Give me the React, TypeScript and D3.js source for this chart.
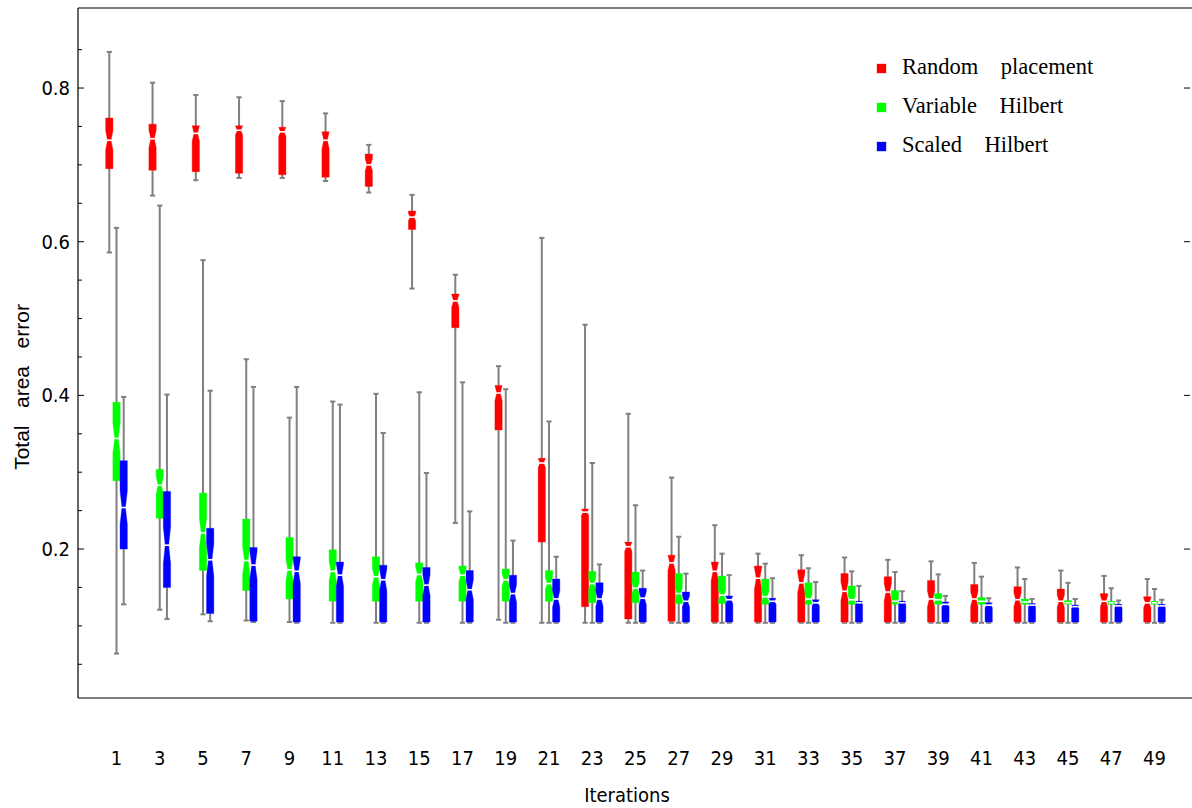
import React, { useLayoutEffect } from "react";
import * as d3 from "d3";

const iterations = [1, 3, 5, 7, 9, 11, 13, 15, 17, 19, 21, 23, 25, 27, 29, 31, 33, 35, 37, 39, 41, 43, 45, 47, 49];

const seriesNames = ["Random    placement", "Variable    Hilbert", "Scaled    Hilbert"];
const seriesColors = ["#ff0000", "#00ff00", "#0000ff"];

// Random placement
const randomHi = [0.847, 0.807, 0.791, 0.788, 0.783, 0.767, 0.726, 0.661, 0.557, 0.438, 0.605, 0.492, 0.376, 0.293, 0.231, 0.194, 0.192, 0.189, 0.186, 0.184, 0.182, 0.176, 0.172, 0.165, 0.161];
const randomQ3 = [0.761, 0.753, 0.751, 0.751, 0.749, 0.743, 0.714, 0.640, 0.532, 0.413, 0.318, 0.252, 0.209, 0.192, 0.183, 0.178, 0.173, 0.168, 0.164, 0.159, 0.154, 0.151, 0.148, 0.142, 0.138];
const randomMed = [0.732, 0.734, 0.741, 0.745, 0.743, 0.732, 0.700, 0.632, 0.523, 0.403, 0.312, 0.248, 0.203, 0.182, 0.171, 0.162, 0.156, 0.145, 0.144, 0.135, 0.135, 0.134, 0.132, 0.132, 0.130];
const randomQ1 = [0.695, 0.693, 0.691, 0.689, 0.687, 0.684, 0.672, 0.616, 0.488, 0.355, 0.209, 0.125, 0.109, 0.106, 0.105, 0.105, 0.105, 0.105, 0.105, 0.105, 0.105, 0.105, 0.105, 0.105, 0.105];
const randomLo = [0.586, 0.660, 0.680, 0.683, 0.683, 0.679, 0.664, 0.539, 0.234, 0.108, 0.104, 0.104, 0.104, 0.104, 0.104, 0.104, 0.104, 0.104, 0.104, 0.104, 0.104, 0.104, 0.104, 0.104, 0.104];

// Variable Hilbert
const variableHi = [0.618, 0.647, 0.576, 0.447, 0.371, 0.392, 0.402, 0.404, 0.417, 0.408, 0.366, 0.312, 0.257, 0.216, 0.194, 0.181, 0.175, 0.171, 0.170, 0.167, 0.164, 0.161, 0.156, 0.149, 0.148];
const variableQ3 = [0.391, 0.304, 0.273, 0.239, 0.215, 0.199, 0.190, 0.182, 0.178, 0.174, 0.172, 0.171, 0.170, 0.168, 0.165, 0.161, 0.156, 0.152, 0.146, 0.142, 0.137, 0.135, 0.133, 0.132, 0.132];
const variableMed = [0.344, 0.283, 0.221, 0.185, 0.173, 0.171, 0.164, 0.167, 0.166, 0.160, 0.155, 0.155, 0.149, 0.142, 0.140, 0.138, 0.135, 0.134, 0.132, 0.134, 0.132, 0.131, 0.130, 0.130, 0.130];
const variableQ1 = [0.289, 0.240, 0.172, 0.146, 0.135, 0.132, 0.132, 0.132, 0.132, 0.132, 0.132, 0.130, 0.130, 0.129, 0.129, 0.128, 0.128, 0.128, 0.128, 0.128, 0.128, 0.128, 0.128, 0.128, 0.128];
const variableLo = [0.064, 0.121, 0.115, 0.107, 0.105, 0.104, 0.104, 0.104, 0.104, 0.104, 0.104, 0.104, 0.104, 0.104, 0.104, 0.104, 0.104, 0.104, 0.104, 0.104, 0.104, 0.104, 0.104, 0.104, 0.104];

// Scaled Hilbert
const scaledHi = [0.398, 0.401, 0.406, 0.411, 0.411, 0.388, 0.351, 0.299, 0.249, 0.211, 0.190, 0.180, 0.172, 0.168, 0.166, 0.162, 0.157, 0.152, 0.145, 0.139, 0.136, 0.135, 0.135, 0.133, 0.134];
const scaledQ3 = [0.315, 0.275, 0.227, 0.202, 0.190, 0.183, 0.179, 0.176, 0.172, 0.166, 0.161, 0.156, 0.149, 0.144, 0.139, 0.136, 0.134, 0.132, 0.132, 0.131, 0.130, 0.129, 0.127, 0.128, 0.128];
const scaledMed = [0.254, 0.205, 0.186, 0.179, 0.171, 0.166, 0.160, 0.153, 0.147, 0.142, 0.135, 0.135, 0.136, 0.132, 0.134, 0.132, 0.130, 0.130, 0.130, 0.128, 0.127, 0.127, 0.125, 0.126, 0.126];
const scaledQ1 = [0.200, 0.150, 0.116, 0.106, 0.105, 0.105, 0.105, 0.105, 0.105, 0.105, 0.105, 0.105, 0.105, 0.105, 0.105, 0.105, 0.105, 0.105, 0.105, 0.105, 0.105, 0.105, 0.105, 0.105, 0.105];
const scaledLo = [0.128, 0.109, 0.106, 0.105, 0.104, 0.104, 0.104, 0.104, 0.104, 0.104, 0.104, 0.104, 0.104, 0.104, 0.104, 0.104, 0.104, 0.104, 0.104, 0.104, 0.104, 0.104, 0.104, 0.104, 0.104];

const majorTicks = [0.2, 0.4, 0.6, 0.8];
const minorTicks = [0.05, 0.1, 0.15, 0.25, 0.3, 0.35, 0.45, 0.5, 0.55, 0.65, 0.7, 0.75, 0.85];

const series = [
  { lo: randomLo, q1: randomQ1, med: randomMed, q3: randomQ3, hi: randomHi },
  { lo: variableLo, q1: variableQ1, med: variableMed, q3: variableQ3, hi: variableHi },
  { lo: scaledLo, q1: scaledQ1, med: scaledMed, q3: scaledQ3, hi: scaledHi },
];

const W = 1192;
const H = 808;
const frame = { left: 78, top: 8, right: 1192, bottom: 698 };

export default function App() {
  useLayoutEffect(() => {
    document.body.style.margin = "0";
  }, []);

  const x = d3.scalePoint<number>().domain(iterations).range([116.5, 1154.5]);
  const y = d3.scaleLinear().domain([0, 0.9]).range([702.7, 11.2]);

  const boxW = 7.3;
  const offset = 7.2;
  const gray = "#808080";
  const tickFont = "'DejaVu Sans Condensed', 'DejaVu Sans', sans-serif";

  const whiskers: React.ReactNode[] = [];
  const boxes: React.ReactNode[] = [];

  series.forEach((s, si) => {
    const color = seriesColors[si];
    iterations.forEach((it, i) => {
      const cx = (x(it) as number) + (si - 1) * offset;
      const yLo = y(s.lo[i]);
      const yHi = y(s.hi[i]);
      whiskers.push(
        <g key={`w${si}-${i}`}>
          <line x1={cx} x2={cx} y1={yLo} y2={yHi} stroke={gray} strokeWidth={2} />
          <line x1={cx - 2.6} x2={cx + 2.6} y1={yLo} y2={yLo} stroke={gray} strokeWidth={2} />
          <line x1={cx - 2.6} x2={cx + 2.6} y1={yHi} y2={yHi} stroke={gray} strokeWidth={2} />
        </g>
      );
      const q1 = s.q1[i], q3 = s.q3[i], med = s.med[i];
      const iqr = q3 - q1;
      const nh = Math.max(0, Math.min(0.19 * iqr, med - q1, q3 - med));
      const x0 = cx - boxW / 2, x1 = cx + boxW / 2;
      const nx0 = cx - boxW * 0.24, nx1 = cx + boxW * 0.24;
      const pts: [number, number][] = [
        [x0, y(q1)],
        [x0, y(med - nh)],
        [nx0, y(med)],
        [x0, y(med + nh)],
        [x0, y(q3)],
        [x1, y(q3)],
        [x1, y(med + nh)],
        [nx1, y(med)],
        [x1, y(med - nh)],
        [x1, y(q1)],
      ];
      const path = d3.line()(pts) + "Z";
      boxes.push(
        <g key={`b${si}-${i}`}>
          <path d={path} fill={color} stroke={color} strokeOpacity={0.35} strokeWidth={1} />
          <line x1={nx0 - 0.6} x2={nx1 + 0.6} y1={y(med)} y2={y(med)} stroke="#ffffff" strokeWidth={1.6} />
        </g>
      );
    });
  });

  return (
    <svg width={W} height={H} style={{ display: "block" }} xmlns="http://www.w3.org/2000/svg">
      <rect x={0} y={0} width={W} height={H} fill="#ffffff" />
      {/* frame */}
      <line x1={frame.left} x2={frame.right} y1={frame.top} y2={frame.top} stroke="#000" strokeWidth={1.2} />
      <line x1={frame.left} x2={frame.right} y1={frame.bottom} y2={frame.bottom} stroke="#000" strokeWidth={1.2} />
      <line x1={frame.left} x2={frame.left} y1={frame.top} y2={frame.bottom} stroke="#000" strokeWidth={1.2} />
      {majorTicks.map((t) => (
        <g key={`mt${t}`}>
          <line x1={frame.left} x2={frame.left + 6} y1={y(t)} y2={y(t)} stroke="#000" strokeWidth={1} />
          <line x1={frame.right - 8} x2={frame.right - 2} y1={y(t)} y2={y(t)} stroke="#000" strokeWidth={1} />
          <text x={frame.left - 8} y={y(t) + 7} textAnchor="end" fontFamily={tickFont} fontSize={20} fill="#000">
            {d3.format(".1f")(t)}
          </text>
        </g>
      ))}
      {minorTicks.map((t) => (
        <line key={`mn${t}`} x1={frame.left} x2={frame.left + 4} y1={y(t)} y2={y(t)} stroke="#000" strokeWidth={1} />
      ))}
      {iterations.map((it) => (
        <text key={`xl${it}`} x={x(it) as number} y={765} textAnchor="middle" fontFamily={tickFont} fontSize={20} fill="#000">
          {it}
        </text>
      ))}
      <text x={627} y={802} textAnchor="middle" fontFamily={tickFont} fontSize={20} fill="#000">
        Iterations
      </text>
      <text
        transform={`translate(29,387) rotate(-90)`}
        textAnchor="middle"
        fontFamily="'Liberation Sans Narrow', 'Arial Narrow', sans-serif"
        fontSize={21}
        fill="#000"
        xmlSpace="preserve"
        style={{ whiteSpace: "pre" }}
      >
        {"Total   area   error"}
      </text>
      {whiskers}
      {boxes}
      {/* legend */}
      {seriesNames.map((name, i) => (
        <g key={`lg${i}`} transform={`translate(877,${64 + i * 39})`}>
          <rect x={0} y={0} width={9} height={9} fill={seriesColors[i]} stroke={seriesColors[i]} strokeOpacity={0.35} />
          <text
            x={25}
            y={9.5}
            fontFamily="'Liberation Serif', 'Times New Roman', serif"
            fontSize={22.5}
            fill="#000"
            xmlSpace="preserve"
            style={{ whiteSpace: "pre" }}
          >
            {name}
          </text>
        </g>
      ))}
    </svg>
  );
}
